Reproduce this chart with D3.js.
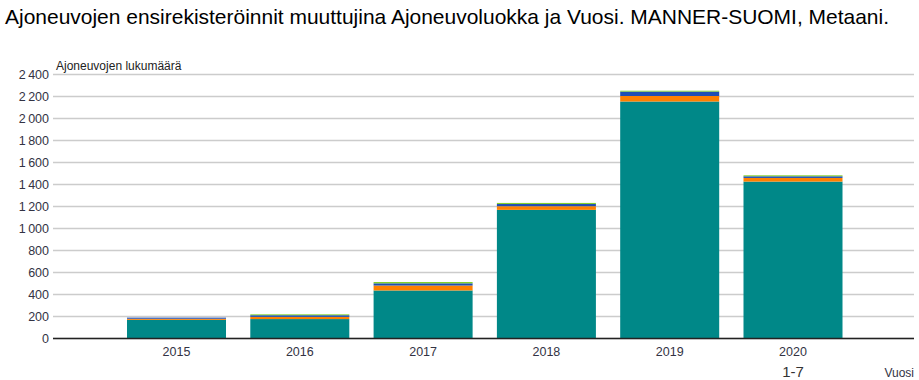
<!DOCTYPE html>
<html><head><meta charset="utf-8">
<script src="https://cdn.jsdelivr.net/npm/d3@7"></script>
<style>body{margin:0;background:#fff;} text{font-family:"Liberation Sans",Arial,sans-serif;}</style>
</head><body>
<svg id="c" width="919" height="380"></svg>
<script>
const years = ["2015","2016","2017","2018","2019","2020"];
const seriesNames = ["teal","orange","blue","green"];
const tealVals   = [165, 172, 432, 1165, 2150, 1422];
const orangeVals = [10, 20, 45, 33, 50, 33];
const blueVals   = [10, 15, 20, 20, 40, 15];
const greenVals  = [0, 8, 12, 10, 8, 9];
const yTicks = [0,200,400,600,800,1000,1200,1400,1600,1800,2000,2200,2400];
const colors = ["#008888","#ff8000","#1f4fb4","#84d02c"];

const svg = d3.select("#c");
const plotL = 53, plotR = 914, y0 = 338, yTop = 74;
const y = d3.scaleLinear().domain([0,2400]).range([y0,yTop]);
const x = d3.scaleBand().domain(years).range([114.85, 114.85+6*123.3]).paddingInner(0.197).paddingOuter(0.0985);

const fmt = v => d3.format(",")(v).replace(/,/g, "\u2009");

// title
svg.append("text").attr("x",5).attr("y",24).attr("font-size",21).attr("fill","#000")
  .attr("textLength",884).attr("lengthAdjust","spacingAndGlyphs")
  .text("Ajoneuvojen ensirekisteröinnit muuttujina Ajoneuvoluokka ja Vuosi. MANNER-SUOMI, Metaani.");

// grid
const yAxis = d3.axisLeft(y).tickValues(yTicks).tickSize(-(plotR-plotL)).tickFormat(fmt).tickPadding(4);
const gy = svg.append("g").attr("transform",`translate(${plotL},0)`).call(yAxis);
gy.select(".domain").remove();
gy.selectAll(".tick line").attr("stroke","#cccccc").attr("stroke-width",1.5);
gy.selectAll(".tick text").attr("font-size",12.5).attr("fill","#333344").attr("font-family","Liberation Sans, Arial, sans-serif");

svg.append("text").attr("x",56).attr("y",70).attr("font-size",12).attr("fill","#222").text("Ajoneuvojen lukumäärä");

// stacked bars
const rows = years.map((yr,i)=>({year:yr, teal:tealVals[i], orange:orangeVals[i], blue:blueVals[i], green:greenVals[i]}));
const stack = d3.stack().keys(seriesNames)(rows);
svg.append("g").selectAll("g").data(stack).join("g").attr("fill",(d,i)=>colors[i])
  .selectAll("rect").data(d=>d).join("rect")
  .attr("x",d=>x(d.data.year)).attr("width",x.bandwidth())
  .attr("y",d=>y(d[1])).attr("height",d=>y(d[0])-y(d[1]));

// baseline
svg.append("line").attr("x1",plotL).attr("x2",plotR).attr("y1",y0+0.5).attr("y2",y0+0.5).attr("stroke","#222").attr("stroke-width",1.5);

// x axis labels
const xAxis = d3.axisBottom(x).tickSize(0).tickPadding(9);
const gx = svg.append("g").attr("transform",`translate(0,${y0})`).call(xAxis);
gx.select(".domain").remove();
gx.selectAll(".tick text").attr("font-size",12.5).attr("fill","#333344").attr("font-family","Liberation Sans, Arial, sans-serif");

svg.append("text").attr("x",x("2020")+x.bandwidth()/2).attr("y",377).attr("text-anchor","middle").attr("font-size",15).attr("fill","#333").text("1-7");
svg.append("text").attr("x",914).attr("y",377).attr("text-anchor","end").attr("font-size",12).attr("fill","#333344").text("Vuosi");
</script>
</body></html>
